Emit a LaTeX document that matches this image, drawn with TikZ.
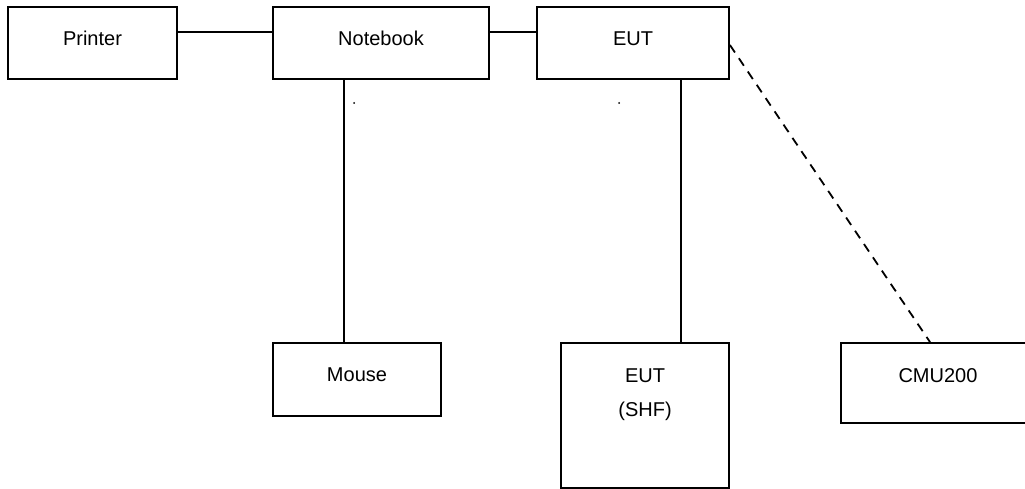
\documentclass[tikz,border=0pt]{standalone}
\usepackage{fontspec}
\setmainfont{Liberation Sans}
\begin{document}
\begin{tikzpicture}[x=1pt,y=-1pt,
  box/.style={draw,line width=1.8pt,inner sep=0pt,rectangle},
  lbl/.style={anchor=base,inner sep=0pt,font=\fontsize{20}{24}\selectfont},
  wire/.style={line width=1.8pt},
  dashwire/.style={line width=1.8pt,dash pattern=on 9pt off 7pt},
  dotmark/.style={circle,fill,inner sep=0pt,minimum size=2pt}]
\useasboundingbox (0,0) rectangle (1025,489);
\clip (0,0) rectangle (1025,489);
% boxes
\node[box,minimum width=169pt,minimum height=72pt] (printer) at (92.5,43) {};
\node[box,minimum width=216pt,minimum height=72pt] (notebook) at (381,43) {};
\node[box,minimum width=192pt,minimum height=72pt] (eut) at (633,43) {};
\node[box,minimum width=168pt,minimum height=73pt] (mouse) at (357,379.5) {};
\node[box,minimum width=168pt,minimum height=145pt] (shf) at (645,415.5) {};
\node[box,minimum width=194pt,minimum height=80pt] (cmu) at (938,383) {};
% labels
\node[lbl] (tprinter) at ([yshift=-39pt]printer.north) {Printer};
\node[lbl] (tnotebook) at ([yshift=-39pt]notebook.north) {Notebook};
\node[lbl] (teut) at ([yshift=-39pt]eut.north) {EUT};
\node[lbl] (tmouse) at ([yshift=-39pt]mouse.north) {Mouse};
\node[lbl] (tshf1) at ([yshift=-40pt]shf.north) {EUT};
\node[lbl] (tshf2) at ([yshift=-74pt]shf.north) {(SHF)};
\node[lbl] (tcmu) at ([yshift=-40pt]cmu.north) {CMU200};
% dots
\node[dotmark] (d1) at (354,103) {};
\node[dotmark] (d2) at (619,103) {};
% connectors
\draw[wire] ([yshift=11pt]printer.east) -- ([yshift=11pt]notebook.west);
\draw[wire] ([yshift=11pt]notebook.east) -- ([yshift=11pt]eut.west);
\draw[wire] ([xshift=-37pt]notebook.south) -- ([xshift=-37pt]notebook.south |- mouse.north);
\draw[wire] ([xshift=48pt]eut.south) -- ([xshift=48pt]eut.south |- shf.north);
\draw[dashwire] ([yshift=-2pt]eut.east) -- ([xshift=-8pt]cmu.north);
\end{tikzpicture}
\end{document}
